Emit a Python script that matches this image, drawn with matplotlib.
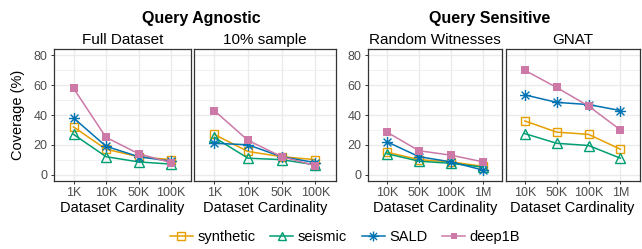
import matplotlib
matplotlib.use("Agg")
import matplotlib.pyplot as plt
from matplotlib.path import Path
from matplotlib.lines import Line2D
from matplotlib.ticker import MultipleLocator

plt.rcParams['font.family'] = ['Liberation Sans', 'DejaVu Sans']

# ---- data ----
series = ["synthetic", "seismic", "SALD", "deep1B"]
colors = {"synthetic": "#E69F00", "seismic": "#009E73", "SALD": "#0072B2", "deep1B": "#CC79A7"}

agnostic_labels = ["1K", "10K", "50K", "100K"]
sensitive_labels = ["10K", "50K", "100K", "1M"]

full_dataset = {
    "synthetic": [32, 17, 12, 10],
    "seismic": [27, 12, 8.5, 7],
    "SALD": [38, 19, 12, 9],
    "deep1B": [58, 25, 14, 8],
}
sample10 = {
    "synthetic": [27, 15.5, 12, 10],
    "seismic": [25, 11, 10, 6.5],
    "SALD": [21, 20, 12, 8],
    "deep1B": [43, 23, 12, 6],
}
random_witnesses = {
    "synthetic": [15, 10, 8.5, 5.5],
    "seismic": [14, 9, 7.5, 5],
    "SALD": [22, 12, 8.5, 3],
    "deep1B": [28.5, 16, 13, 8.5],
}
gnat = {
    "synthetic": [36, 28.5, 27, 17],
    "seismic": [27.5, 21, 19.5, 11],
    "SALD": [53.5, 48.5, 47, 43],
    "deep1B": [70, 58.5, 46, 30],
}

# ---- markers ----
c = 0.7071
ast_path = Path(
    [(-1, 0), (1, 0), (0, -1), (0, 1), (-c, -c), (c, c), (-c, c), (c, -c)],
    [Path.MOVETO, Path.LINETO] * 4,
)
markers = {
    "synthetic": dict(marker="s", mfc="none", ms=6.0, mew=1.0),
    "seismic": dict(marker="^", mfc="none", ms=6.5, mew=1.0),
    "SALD": dict(marker=ast_path, ms=8.0, mew=1.0),
    "deep1B": dict(marker="s", ms=5.5, mew=0),
}

W, H = 642, 249
fig = plt.figure(figsize=(W / 100, H / 100), dpi=100)

TOP, BOT = 49.5, 180.5


def ax_at(l, r):
    return fig.add_axes([l / W, 1 - BOT / H, (r - l) / W, (BOT - TOP) / H])


panels = [
    (54, 190.5, "Full Dataset", full_dataset, agnostic_labels, True),
    (194, 335.5, "10% sample", sample10, agnostic_labels, False),
    (367.7, 502.3, "Random Witnesses", random_witnesses, sensitive_labels, True),
    (505.7, 639.5, "GNAT", gnat, sensitive_labels, False),
]

grid_col = "#EBEBEB"
for (l, r, title, data, xlabels, show_y) in panels:
    ax = ax_at(l, r)
    xs = list(range(1, len(xlabels) + 1))
    ax.set_xlim(0.4, 4.6)
    ax.set_ylim(-4, 84)
    ax.yaxis.set_major_locator(MultipleLocator(20))
    ax.yaxis.set_minor_locator(MultipleLocator(10))
    ax.set_xticks(xs)
    ax.set_xticklabels(xlabels)
    ax.grid(which="major", color=grid_col, lw=1.0)
    ax.grid(which="minor", axis="y", color=grid_col, lw=0.5)
    ax.set_axisbelow(True)
    for s in ax.spines.values():
        s.set_color("#333333")
        s.set_linewidth(0.9)
    ax.tick_params(which="major", length=2.5, width=0.7, color="#333333",
                   labelcolor="#4D4D4D", labelsize=9, pad=2)
    ax.tick_params(which="minor", length=0)
    if not show_y:
        ax.tick_params(axis="y", which="major", length=0, labelleft=False)
    for name in series:
        ax.plot(xs, data[name], color=colors[name], lw=1.1, mec=colors[name],
                mfc=markers[name].get("mfc", colors[name]),
                marker=markers[name]["marker"], ms=markers[name]["ms"],
                mew=markers[name]["mew"], clip_on=False, zorder=3)
    ax.set_xlabel("Dataset Cardinality", fontsize=10.5, labelpad=1.5)
    fig.text((l + r) / 2 / W, 1 - 44 / H, title, ha="center", va="baseline", fontsize=11)

fig.text(18 / W, 1 - 115 / H, "Coverage (%)", rotation=90, ha="center", va="center", fontsize=10.5)

fig.text(201 / W, 1 - 23.5 / H, "Query Agnostic", ha="center", va="baseline",
         fontsize=11.5, fontweight="bold")
fig.text(490 / W, 1 - 23.5 / H, "Query Sensitive", ha="center", va="baseline",
         fontsize=11.5, fontweight="bold")

handles = []
for name in series:
    handles.append(Line2D([], [], color=colors[name], lw=1.1, mec=colors[name],
                          mfc=markers[name].get("mfc", colors[name]),
                          marker=markers[name]["marker"], ms=markers[name]["ms"] * 0.9,
                          mew=markers[name]["mew"]))
fig.legend(handles, series, loc="center", bbox_to_anchor=(345 / W, 1 - 237 / H),
           ncol=4, frameon=False, fontsize=10.5, handlelength=1.6, handletextpad=0.3,
           columnspacing=1.0, borderaxespad=0, borderpad=0)

fig.savefig("out.png", dpi=100)
